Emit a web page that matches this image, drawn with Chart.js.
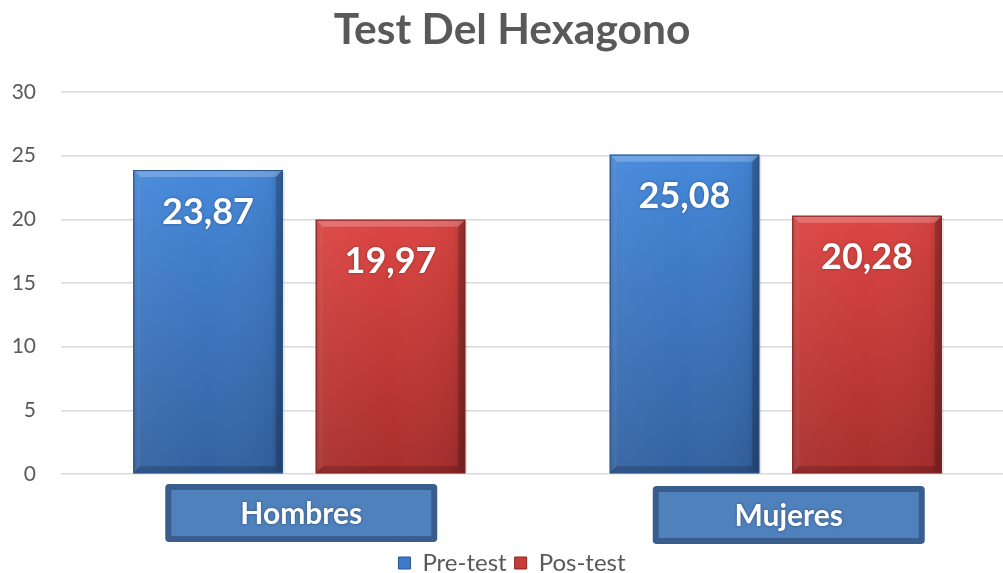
<!DOCTYPE html>
<html><head><meta charset="utf-8">
<script src="https://cdn.jsdelivr.net/npm/chart.js@4.4.1/dist/chart.umd.min.js"></script>
<style>
html,body{margin:0;padding:0;overflow:hidden;background:#fff;width:1003px;height:573px}
#wrap{position:absolute;left:0;top:0;width:1014px;height:573px}
</style></head>
<body><div id="wrap"><canvas id="c" width="1014" height="573"></canvas></div>
<script>
const categories = ['Hombres', 'Mujeres'];
const seriesNames = ['Pre-test', 'Pos-test'];
const preTest = [23.87, 25.08];
const posTest = [19.97, 20.28];
const yTicks = [0, 5, 10, 15, 20, 25, 30];

const palette = {
  blue: {mid: '#3F7BCB', top: '#4588DA', bottom: '#3462A1', edge: '#2B548C'},
  red:  {mid: '#C93B39', top: '#DB4542', bottom: '#A82F2E', edge: '#862423'}
};
const boxOffsets = [2, 13];

function fmt(v){ return v.toFixed(2).replace('.', ','); }

const bevelPlugin = {
  id: 'bevel',
  afterDatasetsDraw(chart){
    const ctx = chart.ctx;
    chart.data.datasets.forEach((ds, di) => {
      const pal = di === 0 ? palette.blue : palette.red;
      chart.getDatasetMeta(di).data.forEach((bar, i) => {
        const p = bar.getProps(['x','y','base','width'], true);
        const L = p.x - p.width/2, R = p.x + p.width/2, T = p.y, B = p.base, b = 7;
        ctx.save();
        ctx.fillStyle = 'rgba(0,0,0,0.10)';
        ctx.fillRect(R, T+2, 2, B-T-2);
        const g = ctx.createLinearGradient(0, T, 0, B);
        g.addColorStop(0, pal.top);
        g.addColorStop(1, pal.bottom);
        ctx.fillStyle = g;
        ctx.fillRect(L, T, R-L, B-T);
        const h = ctx.createLinearGradient(L, 0, R, 0);
        h.addColorStop(0, 'rgba(0,0,0,0.10)');
        h.addColorStop(0.06, 'rgba(255,255,255,0.04)');
        h.addColorStop(0.5, 'rgba(255,255,255,0.0)');
        h.addColorStop(0.92, 'rgba(0,0,0,0.05)');
        h.addColorStop(1, 'rgba(0,0,0,0.22)');
        ctx.fillStyle = h;
        ctx.fillRect(L, T, R-L, B-T);
        ctx.fillStyle = 'rgba(255,255,255,0.22)';
        ctx.beginPath(); ctx.moveTo(L,T); ctx.lineTo(R,T); ctx.lineTo(R-b,T+b); ctx.lineTo(L+b,T+b); ctx.closePath(); ctx.fill();
        ctx.fillStyle = 'rgba(255,255,255,0.06)';
        ctx.beginPath(); ctx.moveTo(L,T); ctx.lineTo(L+b,T+b); ctx.lineTo(L+b,B-b); ctx.lineTo(L,B); ctx.closePath(); ctx.fill();
        ctx.fillStyle = 'rgba(0,0,0,0.18)';
        ctx.beginPath(); ctx.moveTo(R,T); ctx.lineTo(R,B); ctx.lineTo(R-b,B-b); ctx.lineTo(R-b,T+b); ctx.closePath(); ctx.fill();
        ctx.fillStyle = 'rgba(0,0,0,0.18)';
        ctx.beginPath(); ctx.moveTo(L,B); ctx.lineTo(R,B); ctx.lineTo(R-b,B-b); ctx.lineTo(L+b,B-b); ctx.closePath(); ctx.fill();
        ctx.strokeStyle = pal.edge; ctx.lineWidth = 1;
        ctx.strokeRect(L+0.5, T+0.5, R-L-1, B-T-1);
        ctx.fillStyle = '#FFFFFF';
        ctx.font = 'bold 36px Lato';
        ctx.textAlign = 'center'; ctx.textBaseline = 'middle';
        ctx.shadowColor = 'rgba(0,0,0,0.35)'; ctx.shadowBlur = 3;
        ctx.fillText(fmt(ds.data[i]), p.x, T + 42);
        ctx.restore();
      });
    });
  },
  afterDraw(chart){
    const ctx = chart.ctx, xs = chart.scales.x;
    categories.forEach((c, i) => {
      const cx = xs.getPixelForTick(i) + boxOffsets[i];
      const w = 272, hgt = 58, top = chart.chartArea.bottom + 10 + (i ? 2 : 0);
      ctx.save();
      ctx.fillStyle = '#395E8E';
      ctx.beginPath(); ctx.roundRect(cx - w/2, top, w, hgt, 4); ctx.fill();
      ctx.fillStyle = '#4F81BD';
      ctx.fillRect(cx - w/2 + 6, top + 6, w - 12, hgt - 12);
      ctx.fillStyle = '#FFFFFF';
      ctx.font = 'bold 30px Lato';
      ctx.textAlign = 'center'; ctx.textBaseline = 'middle';
      ctx.shadowColor = 'rgba(0,0,0,0.4)'; ctx.shadowBlur = 3;
      ctx.fillText(c, cx, top + hgt/2 + 1);
      ctx.restore();
    });
  }
};

new Chart(document.getElementById('c'), {
  type: 'bar',
  data: {
    labels: categories,
    datasets: [
      {label: seriesNames[0], data: preTest, backgroundColor: palette.blue.mid, borderWidth: 0},
      {label: seriesNames[1], data: posTest, backgroundColor: palette.red.mid, borderWidth: 0}
    ]
  },
  options: {
    responsive: false,
    animation: false,
    categoryPercentage: 0.766,
    barPercentage: 0.819,
    layout: {padding: {left: 10, right: 0, top: 0, bottom: -12}},
    plugins: {
      title: {
        display: true, text: 'Test Del Hexagono',
        color: '#595959', font: {family: 'Lato', size: 42.5, weight: 'bold', lineHeight: 1.2},
        padding: {top: 5, bottom: 36}
      },
      legend: {
        position: 'bottom',
        labels: {
          color: '#595959', font: {family: 'Lato', size: 24},
          boxWidth: 12, boxHeight: 12, padding: 8,
          generateLabels(chart){
            return chart.data.datasets.map((d, i) => ({
              text: d.label, datasetIndex: i,
              fillStyle: i === 0 ? palette.blue.mid : palette.red.mid,
              strokeStyle: i === 0 ? palette.blue.edge : palette.red.edge,
              lineWidth: 1, fontColor: '#595959', hidden: false
            }));
          }
        }
      },
      tooltip: {enabled: false}
    },
    scales: {
      x: {
        grid: {display: false},
        border: {display: false},
        ticks: {display: false},
        afterFit(s){ s.height = 69; }
      },
      y: {
        min: 0, max: 30,
        afterBuildTicks(s){ s.ticks = yTicks.map(v => ({value: v})); },
        grid: {color: '#D9D9D9', lineWidth: 1.5, drawTicks: false},
        border: {display: false},
        ticks: {color: '#595959', font: {family: 'Lato', size: 21}, padding: 25},
        afterFit(s){ s.width = 51; }
      }
    }
  },
  plugins: [bevelPlugin]
});
</script>
</body></html>
